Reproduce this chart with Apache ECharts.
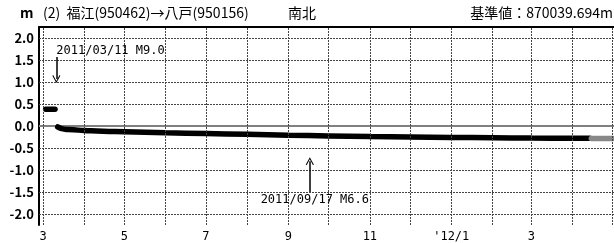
<!DOCTYPE html>
<html>
<head>
<meta charset="utf-8">
<script src="https://cdn.jsdelivr.net/npm/echarts@6/dist/echarts.min.js"></script>
<style>
  html, body { margin: 0; padding: 0; background: #fff; }
  #chart { width: 614px; height: 243px; }
</style>
</head>
<body>
<div id="chart"></div>
<script>
// 変位データ（南北, m）
const preDates = ["2011-03-03", "2011-03-10"];
const preValues = [0.38, 0.38];
const postDates = ["2011-03-12", "2011-03-15", "2011-03-20", "2011-04-01", "2011-04-15", "2011-05-01",
  "2011-06-01", "2011-07-01", "2011-08-01", "2011-09-01", "2011-10-01", "2011-11-01",
  "2011-12-01", "2012-01-01", "2012-02-01", "2012-03-01", "2012-04-01", "2012-04-14"];
const postValues = [-0.02, -0.06, -0.08, -0.10, -0.12, -0.13,
  -0.155, -0.17, -0.19, -0.21, -0.225, -0.24,
  -0.25, -0.26, -0.265, -0.275, -0.28, -0.28];
// 速報値（灰色）
const rapidDates = ["2012-04-15", "2012-05-01"];
const rapidValues = [-0.285, -0.285];

const quakeDates = ["2011-03-11", "2011-09-17"];
const quakeLabels = ["2011/03/11 M9.0", "2011/09/17 M6.6"];
const quakeLabelY = [1.71, -1.67];
const quakeArrowFrom = [1.57, -1.50];
const quakeArrowTo = [1.07, -0.80];

const yTicks = [-2, -1.5, -1, -0.5, 0, 0.5, 1, 1.5, 2];
const monthTicks = [];
for (let y = 2011; y <= 2012; y++) {
  for (let m = 0; m < 12; m++) {
    const d = new Date(y, m, 1);
    if (d >= new Date(2011, 2, 1) && d <= new Date(2012, 4, 1)) monthTicks.push(d.getTime());
  }
}
const labelTicks = monthTicks.filter(t => new Date(t).getMonth() % 2 === 0 && t <= new Date(2012, 2, 1).getTime());

function ts(s) {
  const p = s.split("-");
  return new Date(+p[0], +p[1] - 1, +p[2]).getTime();
}
function pairs(dates, vals) {
  return dates.map((d, i) => [ts(d), vals[i]]);
}

const chart = echarts.init(document.getElementById("chart"));
const monoFont = "'DejaVu Sans Mono', monospace";
const jpFont = "'Noto Sans CJK JP', sans-serif";
const arrowHead = "path://M0,9 L5,0 L10,9 L9,10 L5,2.5 L1,10 Z";
const xMin = ts("2011-02-26");
const xMax = ts("2012-05-02");
const gridStyle = { color: "#444", width: 1, type: [2, 1] };

chart.setOption({
  animation: false,
  grid: { left: 39, right: 0, top: 27, bottom: 17 },
  graphic: [
    { type: "text", left: 20, top: 6, style: { text: "m", font: "bold 14px " + jpFont, fill: "#000" } },
    { type: "text", left: 43, top: 6, style: { text: "(2)  福江(950462)→八戸(950156)", font: "14px " + jpFont, fill: "#000" } },
    { type: "text", left: 288, top: 6, style: { text: "南北", font: "14px " + jpFont, fill: "#000" } },
    { type: "text", right: 1, top: 6, style: { text: "基準値：870039.694m", font: "14px " + jpFont, fill: "#000" } }
  ],
  xAxis: [
    {
      type: "value",
      min: xMin,
      max: xMax,
      axisLine: { lineStyle: { color: "#000", width: 2 } },
      axisTick: { show: false },
      splitLine: { show: false },
      axisLabel: {
        customValues: labelTicks,
        color: "#000",
        fontFamily: monoFont,
        fontSize: 12,
        margin: 6,
        hideOverlap: false,
        formatter: function (v) {
          const d = new Date(v);
          if (d.getMonth() === 0) return "'" + String(d.getFullYear()).slice(2) + "/1";
          return String(d.getMonth() + 1);
        }
      }
    },
    {
      type: "value",
      position: "top",
      min: xMin,
      max: xMax,
      axisLine: { show: true, lineStyle: { color: "#000", width: 2 } },
      axisTick: { show: false },
      axisLabel: { show: false },
      splitLine: { show: false }
    }
  ],
  yAxis: {
    type: "value",
    min: -2.25,
    max: 2.25,
    axisLine: { show: true, lineStyle: { color: "#000", width: 2 } },
    axisTick: { show: false },
    splitLine: { show: false },
    axisLabel: {
      customValues: yTicks,
      color: "#000",
      fontWeight: "bold",
      fontFamily: jpFont,
      fontSize: 13,
      margin: 5,
      formatter: v => v.toFixed(1)
    }
  },
  series: [
    {
      // 格子線
      type: "line",
      data: [],
      markLine: {
        silent: true,
        symbol: ["none", "none"],
        label: { show: false },
        lineStyle: gridStyle,
        data: monthTicks.map(t => ({ xAxis: t }))
          .concat(yTicks.filter(v => v !== 0).map(v => ({ yAxis: v })))
      },
      z: 1
    },
    {
      type: "line",
      data: pairs(preDates, preValues),
      symbol: "none",
      lineStyle: { color: "#000", width: 5.5, cap: "round" },
      z: 3
    },
    {
      type: "line",
      data: pairs(postDates, postValues),
      symbol: "none",
      smooth: true,
      lineStyle: { color: "#000", width: 5.5, cap: "round" },
      z: 3,
      markLine: {
        silent: true,
        symbol: ["none", "none"],
        label: { show: false },
        lineStyle: { color: "#808080", width: 2, type: "solid" },
        data: [{ yAxis: 0 }],
        z: 2
      },
      markPoint: {
        silent: true,
        symbol: "circle",
        symbolSize: 0,
        data: quakeDates.map((d, i) => ({
          coord: [ts(d), quakeLabelY[i]],
          label: {
            show: true,
            position: "inside",
            align: i === 0 ? "left" : "center",
            offset: i === 0 ? [0, 0] : [5, 0],
            formatter: quakeLabels[i],
            color: "#000",
            fontFamily: monoFont,
            fontSize: 12
          }
        }))
      }
    },
    {
      type: "line",
      data: pairs(rapidDates, rapidValues),
      symbol: "none",
      lineStyle: { color: "#888", width: 5.5, cap: "round" },
      z: 3
    },
    {
      type: "line",
      data: [],
      markLine: {
        silent: true,
        symbol: ["none", arrowHead],
        symbolSize: [8, 8],
        label: { show: false },
        lineStyle: { color: "#000", width: 1.5, type: "solid" },
        data: quakeDates.map((d, i) => [
          { coord: [ts(d), quakeArrowFrom[i]] },
          { coord: [ts(d), quakeArrowTo[i]] }
        ])
      }
    }
  ]
});
</script>
</body>
</html>
